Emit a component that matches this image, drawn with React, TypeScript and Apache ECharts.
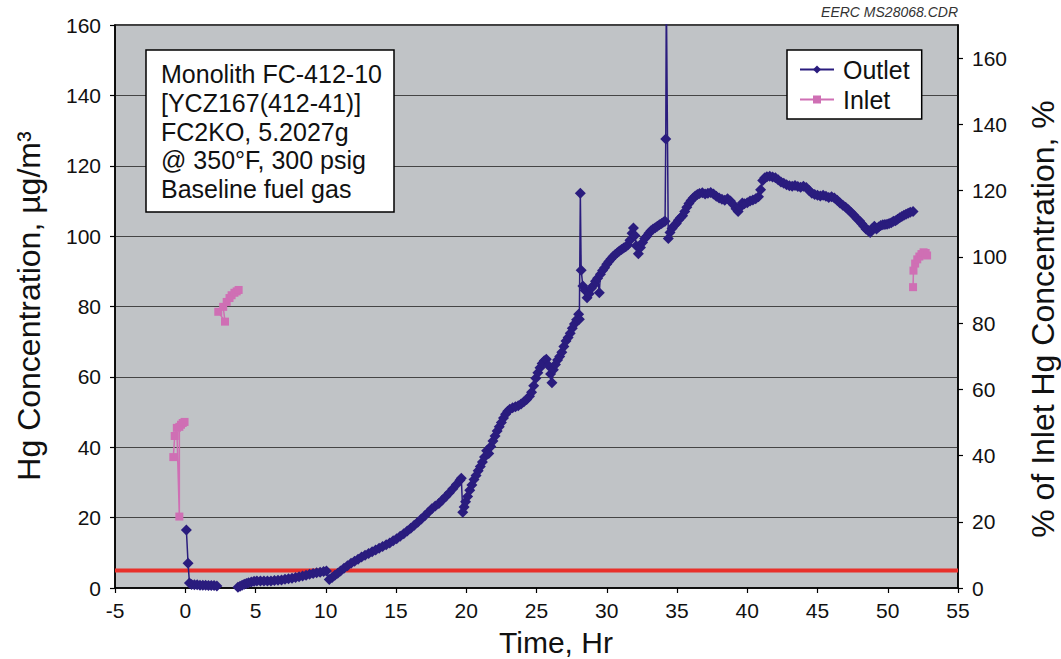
import React, { useEffect, useRef } from "react";
import * as echarts from "echarts";

// Hg outlet concentration, [time (hr), µg/m³]
const outletStart: [number, number][] = [
  [0.08, 16.5], [0.2, 7.0], [0.3, 1.4], [0.45, 1.0], [0.65, 0.9], [0.85, 0.9], [1.05, 0.8],
  [1.25, 0.8], [1.45, 0.8], [1.65, 0.7], [1.85, 0.7], [2.05, 0.7], [2.25, 0.6],
];

const outletRamp: [number, number][] = [
  [3.75, 0.2], [3.9, 0.5], [4.05, 0.8], [4.2, 1.1], [4.35, 1.3], [4.5, 1.5], [4.7, 1.7], [4.9, 1.9],
  [5.1, 2.0], [5.35, 2.0], [5.6, 2.0], [5.85, 2.0], [6.1, 2.0], [6.35, 2.1], [6.6, 2.2], [6.85, 2.3],
  [7.1, 2.5], [7.35, 2.6], [7.6, 2.8], [7.85, 3.0], [8.1, 3.2], [8.35, 3.4], [8.6, 3.6], [8.85, 3.9],
  [9.1, 4.1], [9.35, 4.3], [9.6, 4.5], [9.85, 4.7], [10.05, 4.8], [10.25, 2.4], [10.45, 3.0],
  [10.65, 3.6], [10.85, 4.2], [11.05, 4.8], [11.3, 5.6], [11.55, 6.3], [11.8, 7.0], [12.05, 7.6],
  [12.3, 8.2], [12.55, 8.8], [12.8, 9.3], [13.05, 9.8], [13.3, 10.3], [13.55, 10.8], [13.8, 11.3],
  [14.05, 11.8], [14.3, 12.3], [14.55, 12.8], [14.8, 13.4], [15.05, 14.0], [15.3, 14.7],
  [15.55, 15.4], [15.8, 16.2], [16.05, 17.0], [16.3, 17.8], [16.55, 18.7], [16.8, 19.6],
  [17.05, 20.5], [17.3, 21.5], [17.55, 22.5], [17.8, 23.3], [18.05, 24.0], [18.3, 25.0],
  [18.55, 26.0], [18.8, 27.1], [19.05, 28.2], [19.3, 29.4], [19.55, 30.6], [19.65, 31.2],
];

const outletClimb: [number, number][] = [
  [19.75, 21.5], [19.85, 23.0], [19.95, 24.5], [20.1, 26.0], [20.25, 27.8], [20.4, 29.3],
  [20.55, 30.8], [20.7, 32.0], [20.85, 33.3], [21.0, 34.5], [21.15, 35.8], [21.3, 37.2],
  [21.45, 39.0], [21.6, 38.2], [21.75, 40.2], [21.9, 41.8], [22.05, 43.2], [22.2, 44.6],
  [22.35, 45.8], [22.5, 47.0], [22.65, 48.3], [22.8, 49.4], [22.95, 50.2], [23.1, 50.8],
  [23.3, 51.2], [23.5, 51.5], [23.7, 51.8], [23.9, 52.3], [24.1, 52.9], [24.3, 53.6], [24.5, 54.5],
  [24.65, 55.6], [24.8, 57.5], [24.95, 59.6], [25.1, 61.2], [25.25, 62.6], [25.4, 63.8],
  [25.55, 64.6], [25.7, 65.0], [25.85, 63.2], [26.0, 60.8], [26.1, 58.3], [26.2, 62.0],
  [26.35, 63.5], [26.5, 64.8], [26.65, 65.8], [26.8, 67.0], [26.95, 68.6], [27.1, 70.2],
  [27.25, 71.2], [27.4, 72.4], [27.55, 73.8], [27.7, 75.0], [27.85, 76.2], [28.0, 77.8],
  [28.05, 76.4], [28.12, 112.2], [28.18, 90.3], [28.3, 85.8], [28.45, 84.6], [28.6, 82.5],
  [28.75, 83.6], [28.9, 85.2], [29.05, 86.0], [29.2, 87.2], [29.35, 88.0], [29.47, 83.9],
  [29.55, 89.2], [29.7, 90.2], [29.85, 91.0], [30.0, 92.0], [30.15, 92.8], [30.3, 93.5],
  [30.45, 94.2], [30.6, 94.8], [30.75, 95.3], [30.9, 95.8], [31.05, 96.2], [31.2, 96.6],
  [31.35, 97.0], [31.5, 97.5], [31.65, 98.8], [31.8, 100.8], [31.9, 102.3], [32.0, 100.2],
  [32.1, 97.3], [32.25, 95.0], [32.4, 96.8], [32.55, 98.2], [32.7, 99.3], [32.85, 100.0],
  [33.0, 100.8], [33.15, 101.5], [33.3, 102.0], [33.45, 102.4], [33.6, 102.8], [33.75, 103.2],
  [33.9, 103.6], [34.05, 104.0], [34.15, 104.2], [34.2, 127.6], [34.24, 170.0],
];

const outletPlateau: [number, number][] = [
  [34.38, 99.3], [34.5, 101.0], [34.65, 102.2], [34.8, 103.0], [34.95, 103.6], [35.1, 104.5],
  [35.25, 105.2], [35.4, 105.8], [35.55, 107.0], [35.7, 108.2], [35.85, 109.3], [36.0, 110.1],
  [36.15, 110.8], [36.3, 111.4], [36.45, 111.8], [36.6, 112.1], [36.8, 112.3], [37.0, 112.0],
  [37.2, 112.2], [37.4, 112.4], [37.6, 112.0], [37.8, 111.3], [38.0, 110.8], [38.2, 110.5],
  [38.4, 110.2], [38.6, 110.6], [38.8, 110.0], [39.0, 109.0], [39.2, 107.8], [39.35, 107.0],
  [39.5, 108.2], [39.65, 109.4], [39.8, 109.2], [40.0, 109.5], [40.2, 110.0], [40.4, 110.3],
  [40.6, 110.6], [40.8, 111.2], [40.95, 113.2], [41.1, 115.8], [41.25, 116.6], [41.4, 116.9],
  [41.6, 117.0], [41.8, 116.8], [42.0, 116.6], [42.2, 116.0], [42.4, 115.4], [42.6, 115.0],
  [42.8, 114.6], [43.0, 114.3], [43.2, 114.2], [43.4, 114.4], [43.6, 114.1], [43.8, 113.9],
  [44.0, 114.2], [44.2, 113.8], [44.4, 113.0], [44.6, 112.2], [44.8, 111.8], [45.0, 111.6],
  [45.2, 111.4], [45.4, 111.6], [45.6, 111.3], [45.8, 111.0], [46.0, 111.2], [46.2, 110.8],
  [46.4, 110.2], [46.6, 109.4], [46.8, 108.8], [47.0, 108.2], [47.2, 107.5], [47.4, 106.7],
  [47.6, 105.9], [47.8, 105.0], [48.0, 104.3], [48.15, 103.5], [48.3, 102.8], [48.45, 102.0],
  [48.6, 101.6], [48.75, 101.0], [48.9, 102.2], [49.05, 102.8], [49.2, 102.0], [49.35, 102.6],
  [49.5, 103.0], [49.65, 103.2], [49.8, 103.3], [49.95, 103.4], [50.1, 103.6], [50.25, 103.8],
  [50.4, 104.2], [50.55, 104.4], [50.7, 104.8], [50.85, 105.2], [51.0, 105.6], [51.15, 105.9],
  [51.3, 106.2], [51.45, 106.5], [51.6, 106.8], [51.8, 107.0],
];

// Hg inlet concentration, [time (hr), µg/m³]
const inletBefore: [number, number][] = [
  [-0.85, 37.2], [-0.75, 43.2], [-0.6, 45.5], [-0.42, 20.3], [-0.42, 45.8], [-0.3, 46.4],
  [-0.18, 46.9], [-0.05, 47.2],
];
const inletMid: [number, number][] = [
  [2.35, 78.5], [2.83, 75.7], [2.7, 79.9], [2.95, 81.3], [3.15, 82.4], [3.3, 83.2], [3.5, 83.9],
  [3.66, 84.3], [3.8, 84.7],
];
const inletEnd: [number, number][] = [
  [51.8, 85.5], [51.83, 90.2], [51.95, 92.2], [52.1, 93.4], [52.25, 94.2], [52.4, 94.9],
  [52.55, 95.4], [52.7, 95.2], [52.8, 94.5],
];

// 5 µg/m³ target level
const targetLevel = 5;
const xRange = [-5, 55];

const noteLines = [
  "Monolith FC-412-10",
  "[YCZ167(412-41)]",
  "FC2KO, 5.2027g",
  "@ 350°F, 300 psig",
  "Baseline fuel gas",
];

const FONT = "'Liberation Sans', Arial, Helvetica, sans-serif";
const OUTLET = "#2A1C7E";
const INLET = "#CF6FB4";

const gap = (x: number) => [x, "-"];

export default function App() {
  const ref = useRef<HTMLDivElement>(null);

  useEffect(() => {
    if (!ref.current) return;
    const chart = echarts.init(ref.current, undefined, { renderer: "svg" });

    const outletData = [
      ...outletStart,
      gap(3.0),
      ...outletRamp,
      ...outletClimb,
      ...outletPlateau,
    ];
    const inletData = [...inletBefore, gap(1.0), ...inletMid, gap(20), ...inletEnd];

    const tickLabel = { fontSize: 21, color: "#111", fontFamily: FONT };

    chart.setOption({
      animation: false,
      backgroundColor: "#ffffff",
      textStyle: { fontFamily: FONT },
      grid: {
        left: 115,
        top: 25,
        width: 843,
        height: 563,
        show: true,
        backgroundColor: "#C0C3C6",
        borderColor: "#000",
        borderWidth: 1.5,
      },
      legend: {
        data: ["Outlet", "Inlet"],
        orient: "vertical",
        left: 787,
        top: 50,
        itemWidth: 34,
        itemHeight: 10,
        itemGap: 5,
        padding: [7, 12, 7, 12],
        backgroundColor: "#ffffff",
        borderColor: "#000",
        borderWidth: 1.5,
        textStyle: { fontSize: 25, color: "#111", fontFamily: FONT, padding: [0, 0, 0, 4] },
      },
      xAxis: {
        type: "value",
        min: -5,
        max: 55,
        interval: 5,
        axisLine: { show: true, onZero: false, lineStyle: { color: "#000", width: 1.5 } },
        axisTick: { show: true, length: 5, lineStyle: { color: "#000", width: 1.2 } },
        axisLabel: { ...tickLabel, margin: 12 },
        splitLine: { show: false },
      },
      yAxis: [
        {
          type: "value",
          min: 0,
          max: 160,
          interval: 20,
          axisLine: { show: true, onZero: false, lineStyle: { color: "#000", width: 1.5 } },
          axisTick: { show: true, length: 5, lineStyle: { color: "#000", width: 1.2 } },
          axisLabel: { ...tickLabel, margin: 14 },
          splitLine: { show: true, lineStyle: { color: "#454545", width: 1.2 } },
        },
        {
          type: "value",
          position: "right",
          min: 0,
          max: 170,
          interval: 20,
          axisLine: { show: true, onZero: false, lineStyle: { color: "#000", width: 1.5 } },
          axisTick: { show: true, length: 5, lineStyle: { color: "#000", width: 1.2 } },
          axisLabel: { ...tickLabel, margin: 14, showMaxLabel: false },
          splitLine: { show: false },
        },
      ],
      series: [
        {
          name: "target",
          type: "line",
          data: xRange.map((x) => [x, targetLevel]),
          symbol: "none",
          lineStyle: { color: "#E8302A", width: 4 },
          silent: true,
          z: 1,
        },
        {
          name: "Outlet",
          type: "line",
          data: outletData,
          connectNulls: false,
          symbol: "diamond",
          symbolSize: [11, 11],
          itemStyle: { color: OUTLET },
          lineStyle: { color: OUTLET, width: 1.5 },
          z: 3,
        },
        {
          name: "Inlet",
          type: "line",
          data: inletData,
          connectNulls: false,
          symbol: "rect",
          symbolSize: 8,
          itemStyle: { color: INLET },
          lineStyle: { color: INLET, width: 1.5 },
          z: 2,
        },
      ],
      graphic: [
        {
          type: "rect",
          shape: { x: 146, y: 50, width: 248, height: 162 },
          style: { fill: "#ffffff", stroke: "#000", lineWidth: 1.5 },
          z: 10,
        },
        {
          type: "text",
          x: 161,
          y: 60,
          style: {
            text: noteLines.join("\n"),
            fontSize: 25,
            fontFamily: FONT,
            lineHeight: 28.7,
            fill: "#111",
          },
          z: 11,
        },
        {
          type: "text",
          x: 958,
          y: 12,
          style: {
            text: "EERC MS28068.CDR",
            fontSize: 14,
            fontStyle: "italic",
            fontFamily: FONT,
            fill: "#333",
            align: "right",
            verticalAlign: "middle",
          },
        },
        {
          type: "text",
          x: 556,
          y: 642,
          style: {
            text: "Time, Hr",
            fontSize: 30,
            fontFamily: FONT,
            fill: "#111",
            align: "center",
            verticalAlign: "middle",
          },
        },
        {
          type: "text",
          x: 29,
          y: 306,
          rotation: Math.PI / 2,
          style: {
            text: "Hg Concentration, µg/m³",
            fontSize: 32,
            fontFamily: FONT,
            fill: "#111",
            align: "center",
            verticalAlign: "middle",
          },
        },
        {
          type: "text",
          x: 1043,
          y: 319,
          rotation: Math.PI / 2,
          style: {
            text: "% of Inlet Hg Concentration, %",
            fontSize: 32,
            fontFamily: FONT,
            fill: "#111",
            align: "center",
            verticalAlign: "middle",
          },
        },
      ],
    });

    return () => chart.dispose();
  }, []);

  return (
    <div
      ref={ref}
      style={{ position: "fixed", left: 0, top: 0, width: 1061, height: 659 }}
    />
  );
}
